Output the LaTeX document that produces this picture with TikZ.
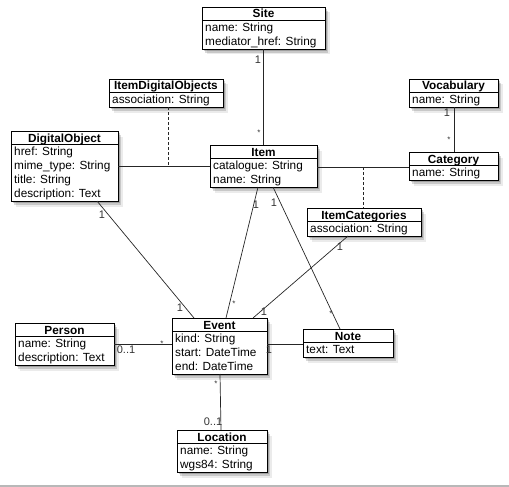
\documentclass[tikz,border=0pt]{standalone}
\usepackage{fontspec}
\setmainfont{Liberation Sans}
\usetikzlibrary{shadows}
\newcommand\umlclass[7]{%
  \pgfmathsetmacro\ucB{#3+14+14*#5}%
  \pgfmathsetmacro\ucS{#3+13}%
  \node[classbox, minimum width={(#4-#2)*1pt}, minimum height={(\ucB-#3)*1pt}, anchor=north west] (#1) at (#2,#3) {};
  \draw[sepline] (#2,\ucS) -- (#4,\ucS);
  \node[titletext, anchor=base] (#1-title) at ({(#2+#4)/2},#3+11) {#6};
  \node[attrtext, anchor=north west] (#1-attrs) at (#2+3,\ucS) {\rule{0pt}{11pt}#7};
}
\begin{document}
\begin{tikzpicture}[x=1pt,y=-1pt,
  classbox/.style={draw=black, line width=0.8pt, fill=white, inner sep=0pt, outer sep=0pt,
    drop shadow={shadow xshift=1.5pt, shadow yshift=-2pt, fill=black, opacity=0.2},
    drop shadow={shadow xshift=3pt, shadow yshift=-4pt, fill=black, opacity=0.15},
    drop shadow={shadow xshift=4.5pt, shadow yshift=-5.5pt, fill=black, opacity=0.08}},
  sepline/.style={line width=0.7pt},
  titletext/.style={inner sep=0pt, font=\fontsize{11.8}{14}\selectfont\bfseries},
  attrtext/.style={inner sep=0pt, align=left, font=\fontsize{11.8}{14}\selectfont},
  conn/.style={line width=0.7pt, draw=black!85},
  dashconn/.style={line width=0.7pt, draw=black!85, dash pattern=on 3pt off 2pt},
  mult/.style={inner sep=0pt, font=\fontsize{11}{12}\selectfont, text=black!80},
  star/.style={inner sep=0pt, font=\fontsize{8}{9}\selectfont, text=black!80}]
\useasboundingbox (0,0) rectangle (509,487);
\draw[line width=1.2pt, draw=black!28] (0,486) -- (509,486);

% classes
\umlclass{site}{202}{7}{325}{2}{Site}{name: String\\mediator\_href: String}
\umlclass{ido}{109}{79}{223}{1}{ItemDigitalObjects}{association: String}
\umlclass{do}{11}{131}{118}{4}{DigitalObject}{href: String\\mime\_type: String\\title: String\\description: Text}
\umlclass{item}{210}{145}{317}{2}{Item}{catalogue: String\\name: String}
\umlclass{vocab}{409}{79}{498}{1}{Vocabulary}{name: String}
\umlclass{cat}{409}{152}{498}{1}{Category}{name: String}
\umlclass{ic}{307}{208}{421}{1}{ItemCategories}{association: String}
\umlclass{event}{172}{318}{267}{3}{Event}{kind: String\\start: DateTime\\end: DateTime}
\umlclass{person}{15}{323}{114}{2}{Person}{name: String\\description: Text}
\umlclass{note}{303}{329}{393}{1}{Note}{text: Text}
\umlclass{loc}{177}{430}{267}{2}{Location}{name: String\\wgs84: String}

\coordinate (idoJ) at (168,166);
\coordinate (icJ) at (363,167);

% connectors
\draw[conn] (263,0 |- site.south) -- (263,0 |- item.north);
\draw[conn] (454,0 |- vocab.south) -- (454,0 |- cat.north);
\draw[conn] (do.east |- idoJ) -- (item.west |- idoJ);
\draw[dashconn] (168,0 |- ido.south) -- (idoJ);
\draw[conn] (item.east |- icJ) -- (cat.west |- icJ);
\draw[dashconn] (icJ) -- (363,0 |- ic.north);
\draw[conn] (97,0 |- do.south) -- (194,0 |- event.north);
\draw[conn] (258,0 |- item.south) -- (226,0 |- event.north);
\draw[conn] (273,0 |- item.south) -- (340,0 |- note.north);
\draw[conn] (348,0 |- ic.south) -- (253,0 |- event.north);
\draw[conn] (person.east |- 0,344) -- (event.west |- 0,344);
\draw[conn] (event.east |- 0,344) -- (note.west |- 0,344);
\draw[conn] (220,0 |- event.south) -- (221,0 |- loc.north);

% multiplicities
\node[mult] (m1) at (258,60) {1};
\node[star] (m2) at (259,133) {*};
\node[mult] (m3) at (447,113) {1};
\node[star] (m4) at (449,140) {*};
\node[mult] (m5) at (256,205) {1};
\node[star] (m6) at (234,304) {*};
\node[mult] (m7) at (274,203) {1};
\node[star] (m8) at (331,314) {*};
\node[mult] (m9) at (102,215) {1};
\node[mult] (m10) at (180,308) {1};
\node[mult] (m11) at (340,247) {1};
\node[mult] (m12) at (264,312) {1};
\node[mult] (m13) at (126,350) {0..1};
\node[star] (m14) at (162,344) {*};
\node[mult] (m15) at (269,350) {1};
\node[star] (m16) at (216,384) {*};
\node[mult] (m17) at (213,422) {0..1};
\end{tikzpicture}
\end{document}
